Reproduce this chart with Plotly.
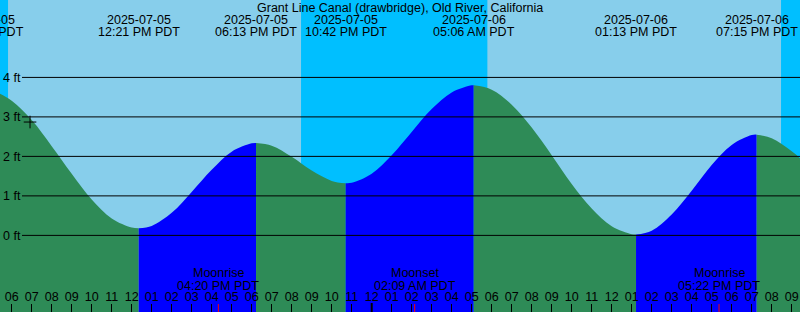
import pandas as pd
import plotly.graph_objects as go

# ---------------- data ----------------
location = "Grant Line Canal (drawbridge), Old River, California"

# hourly water levels (ft), starting 2025-07-05 05:00
hourly_start = "2025-07-05 05:00"
hourly_heights = [3.67, 3.41, 2.92, 2.26, 1.56, 0.91, 0.43, 0.20, 0.24, 0.57,
                  1.10, 1.66, 2.12, 2.33, 2.27, 1.99, 1.64, 1.38, 1.33, 1.56,
                  2.03, 2.62, 3.20, 3.62, 3.80, 3.69, 3.31, 2.73, 2.03, 1.30,
                  0.68, 0.23, 0.03, 0.12, 0.53, 1.13, 1.78, 2.29, 2.54, 2.46,
                  2.13, 1.72]

# high / low tide events
event_times = ["2025-07-05 04:34", "2025-07-05 12:21", "2025-07-05 18:13",
               "2025-07-05 22:42", "2025-07-06 05:06", "2025-07-06 13:13",
               "2025-07-06 19:15", "2025-07-06 23:30"]
event_heights = [3.70, 0.18, 2.34, 1.32, 3.80, 0.02, 2.55, 1.40]

sunrise_times = ["2025-07-05 05:49", "2025-07-06 05:47"]
sunset_times = ["2025-07-05 20:28", "2025-07-06 20:28"]

moon_times = ["2025-07-05 16:20", "2025-07-06 02:09", "2025-07-06 17:22"]
moon_names = ["Moonrise", "Moonset", "Moonrise"]

now_time = "2025-07-05 06:55"
now_height = 2.87

y_tick_values = [0, 1, 2, 3, 4]
x_start = "2025-07-05 05:24:54"
x_end = "2025-07-06 21:24:54"
y_min, y_max = -1.94, 5.96

# ---------------- styles ----------------
W, H = 800, 312
DAY = "#87CEEB"
NIGHT = "#00BFFF"
RISE = "#0000FF"
FALL = "#2E8B57"
FONT = "Liberation Sans, Arial, sans-serif"
FS = 12.5

fig = go.Figure()

hourly_t = pd.date_range(hourly_start, periods=len(hourly_heights), freq="h")
ev_t = pd.to_datetime(event_times)

for i in range(len(ev_t) - 1):
    ta, tb = ev_t[i], ev_t[i + 1]
    inner = [(t, h) for t, h in zip(hourly_t, hourly_heights) if ta < t < tb]
    xs = [ta] + [t for t, _ in inner] + [tb]
    ys = [event_heights[i]] + [h for _, h in inner] + [event_heights[i + 1]]
    color = RISE if event_heights[i + 1] > event_heights[i] else FALL
    fig.add_trace(go.Scatter(x=xs, y=[y_min - 1] * len(xs), mode="lines",
                             line=dict(width=0, color=color), hoverinfo="skip"))
    fig.add_trace(go.Scatter(x=xs, y=ys, mode="lines",
                             line=dict(width=0, shape="spline", color=color),
                             fill="tonexty", fillcolor=color, hoverinfo="skip"))

fig.add_trace(go.Scatter(x=[now_time], y=[now_height], mode="markers",
                         marker=dict(symbol="cross-thin", size=9,
                                     line=dict(color="black", width=1))))

shapes = []
for sr, ss in zip(sunrise_times, sunset_times):
    shapes.append(dict(type="rect", xref="x", yref="paper", x0=sr, x1=ss,
                       y0=0, y1=1, fillcolor=DAY, line=dict(width=0),
                       layer="below"))
for v in y_tick_values:
    shapes.append(dict(type="line", xref="paper", yref="y", x0=22 / W, x1=1,
                       y0=v, y1=v, line=dict(color="black", width=1),
                       layer="above"))
for mt in moon_times:
    shapes.append(dict(type="line", xref="x", yref="paper", x0=mt, x1=mt,
                       y0=0, y1=8 / H, line=dict(color="red", width=1),
                       layer="above"))
midnight = pd.Timestamp(x_start).normalize() + pd.Timedelta(days=1)
shapes.append(dict(type="line", xref="x", yref="paper", x0=midnight,
                   x1=midnight, y0=0, y1=9 / H,
                   line=dict(color="black", width=2), layer="above"))

annotations = [dict(text=location, xref="paper", yref="paper", x=0.5,
                    y=1 - 8 / H, xanchor="center", yanchor="middle",
                    showarrow=False, font=dict(size=FS, color="black"))]

t0 = pd.Timestamp(x_start)
t1 = pd.Timestamp(x_end)
px_per_sec = W / (t1 - t0).total_seconds()
for t in ev_t:
    if (t0 - t) > pd.Timedelta(hours=1.5) or (t - t1) > pd.Timedelta(hours=1.5):
        continue
    if t < t0:
        xa, xs_ = t0, (t - t0).total_seconds() * px_per_sec
    elif t > t1:
        xa, xs_ = t1, (t - t1).total_seconds() * px_per_sec
    else:
        xa, xs_ = t, 0
    for txt, yc in ((t.strftime("%Y-%m-%d"), 20),
                    (t.strftime("%I:%M %p PDT"), 32)):
        annotations.append(dict(text=txt, xref="x", yref="paper", x=xa,
                                xshift=xs_, y=1 - yc / H, xanchor="center",
                                yanchor="middle", showarrow=False,
                                font=dict(size=FS, color="black")))

for mt, name in zip(pd.to_datetime(moon_times), moon_names):
    for txt, yc in ((name, 273), (mt.strftime("%I:%M %p PDT"), 286)):
        annotations.append(dict(text=txt, xref="x", yref="paper", x=mt,
                                y=1 - yc / H, xanchor="center",
                                yanchor="middle", showarrow=False,
                                font=dict(size=FS, color="black")))

fig.update_layout(
    width=W, height=H, margin=dict(l=0, r=0, t=0, b=0),
    paper_bgcolor=NIGHT, plot_bgcolor=NIGHT, showlegend=False,
    font=dict(family=FONT, size=FS, color="black"),
    shapes=shapes, annotations=annotations,
    xaxis=dict(type="date", range=[x_start, x_end], tickformat="%I",
               tick0="2025-07-05 00:00", dtick=3600000, ticks="inside",
               ticklen=8, tickwidth=1, tickcolor="black",
               ticklabelposition="inside", ticklabeloverflow="allow",
               showgrid=False, zeroline=False,
               showline=False, tickfont=dict(size=FS, color="black")),
    yaxis=dict(range=[y_min, y_max], tickvals=y_tick_values,
               ticktext=[f"{v} ft" for v in y_tick_values],
               ticklabelposition="inside", ticklabeloverflow="allow",
               ticks="", showgrid=False,
               zeroline=False, showline=False,
               tickfont=dict(size=FS, color="black")),
)

fig.write_html("out.html")
